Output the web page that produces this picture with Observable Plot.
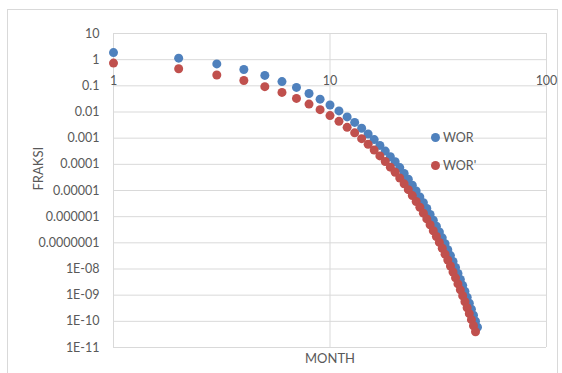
<!DOCTYPE html>
<html><head><meta charset="utf-8">
<script src="https://cdn.jsdelivr.net/npm/d3@7"></script>
<script src="https://cdn.jsdelivr.net/npm/@observablehq/plot@0.6"></script>
<style>
body{margin:0;background:#fff;}
#wrap{position:relative;width:562px;height:373px;overflow:hidden;font-family:Lato,sans-serif;background:#fff;}
#frame{position:absolute;left:7px;top:9px;width:551px;height:390px;border:1px solid #d9d9d9;box-sizing:border-box;}
#chart{position:absolute;left:0;top:0;}
.leg{position:absolute;font-size:12.5px;color:#595959;line-height:14px;white-space:nowrap;}
.leg .d{position:absolute;left:-12px;top:2px;width:9px;height:9px;border-radius:50%;}
</style></head><body>
<div id="wrap"><div id="frame"></div><div id="chart"></div><div id="legend"></div></div>
<script>
const seriesNames = ["WOR", "WOR'"];
const seriesColors = ["#4F81BD", "#C0504D"];

const monthsWOR = [1,2,3,4,5,6,7,8,9,10,11,12,13,14,15,16,17,18,19,20,21,22,23,24,25,26,27,28,29,30,31,32,33,34,35,36,37,38,39,40,41,42,43,44,45,46,47,48];
const valuesWOR = [1.86,1.14,0.69,0.42,0.25,0.145,0.087,0.051,0.031,0.0185,0.011,0.0065,0.004,0.0024,0.00145,0.00088,0.00053,0.00032,0.000195,0.000125,7.5e-5,4.5e-5,2.7e-5,1.6e-5,9.6e-6,5.7e-6,3.4e-6,2.05e-6,1.22e-6,7.3e-7,4.35e-7,2.6e-7,1.55e-7,9.2e-8,5.5e-8,3.25e-8,1.93e-8,1.14e-8,6.8e-9,4.0e-9,2.37e-9,1.4e-9,8.3e-10,4.9e-10,2.9e-10,1.71e-10,1.01e-10,6.0e-11];

const monthsWORp = [1,2,3,4,5,6,7,8,9,10,11,12,13,14,15,16,17,18,19,20,21,22,23,24,25,26,27,28,29,30,31,32,33,34,35,36,37,38,39,40,41,42,43,44,45,46,47];
const valuesWORp = [0.74,0.45,0.26,0.16,0.093,0.056,0.033,0.02,0.0123,0.0073,0.0044,0.0026,0.0016,0.00096,0.00058,0.00035,0.00021,0.000128,7.8e-5,5.0e-5,3.0e-5,1.8e-5,1.08e-5,6.4e-6,3.8e-6,2.28e-6,1.36e-6,8.2e-7,4.9e-7,2.9e-7,1.74e-7,1.04e-7,6.2e-8,3.7e-8,2.2e-8,1.3e-8,7.7e-9,4.6e-9,2.7e-9,1.6e-9,9.5e-10,5.6e-10,3.3e-10,1.96e-10,1.16e-10,6.8e-11,4.0e-11];

const yTicks = [10,1,0.1,0.01,0.001,0.0001,0.00001,0.000001,0.0000001,1e-8,1e-9,1e-10,1e-11];
const yLabels = ["10","1","0.1","0.01","0.001","0.0001","0.00001","0.000001","0.0000001","1E-08","1E-09","1E-10","1E-11"];
const xTicks = [1,10,100];
const xLabels = ["1","10","100"];
const xTitle = "MONTH";
const yTitle = "FRAKSI";

const dataWOR = monthsWOR.map((m,i)=>({month:m, value:valuesWOR[i]}));
const dataWORp = monthsWORp.map((m,i)=>({month:m, value:valuesWORp[i]}));

const yLabelOf = d => {
  const k = yTicks.findIndex(t => Math.abs(Math.log10(t) - Math.log10(d)) < 1e-6);
  return k >= 0 ? yLabels[k] : "";
};

const chart = Plot.plot({
  width: 562, height: 373,
  marginLeft: 113, marginRight: 16, marginTop: 33, marginBottom: 26,
  x: {type: "log", domain: [1, 100], axis: null},
  y: {type: "log", domain: [1e-11, 10]},
  style: {fontFamily: "Lato, sans-serif", fontSize: "12.5px", color: "#595959", background: "transparent"},
  marks: [
    Plot.ruleY(yTicks, {y: d => d, stroke: "#d9d9d9", strokeWidth: 1}),
    Plot.ruleX(xTicks, {x: d => d, stroke: "#d9d9d9", strokeWidth: 1}),
    Plot.axisY({ticks: yTicks, tickSize: 0, tickPadding: 14, tickFormat: yLabelOf, label: null, fill: "#595959"}),
    Plot.text(xTicks, {x: d => d, y: () => 1, text: (d, i) => xLabels[i], dy: 21, fill: "#595959", fontSize: 12.5}),
    Plot.dot(dataWOR, {x: "month", y: "value", r: 4.5, fill: seriesColors[0], stroke: "none"}),
    Plot.dot(dataWORp, {x: "month", y: "value", r: 4.5, fill: seriesColors[1], stroke: "none"}),
    Plot.text([yTitle], {frameAnchor: "left", text: d => d, rotate: -90, dx: -75, fill: "#595959", fontSize: 13}),
    Plot.text([xTitle], {frameAnchor: "bottom", text: d => d, dy: 15, fill: "#595959", fontSize: 13})
  ]
});
document.getElementById("chart").appendChild(chart);

const legend = document.getElementById("legend");
const legTops = [131, 159];
seriesNames.forEach((name, i) => {
  const el = document.createElement("div");
  el.className = "leg";
  el.style.left = "443px";
  el.style.top = legTops[i] + "px";
  const dot = document.createElement("span");
  dot.className = "d";
  dot.style.background = seriesColors[i];
  el.appendChild(dot);
  el.appendChild(document.createTextNode(name));
  legend.appendChild(el);
});
</script>
</body></html>
